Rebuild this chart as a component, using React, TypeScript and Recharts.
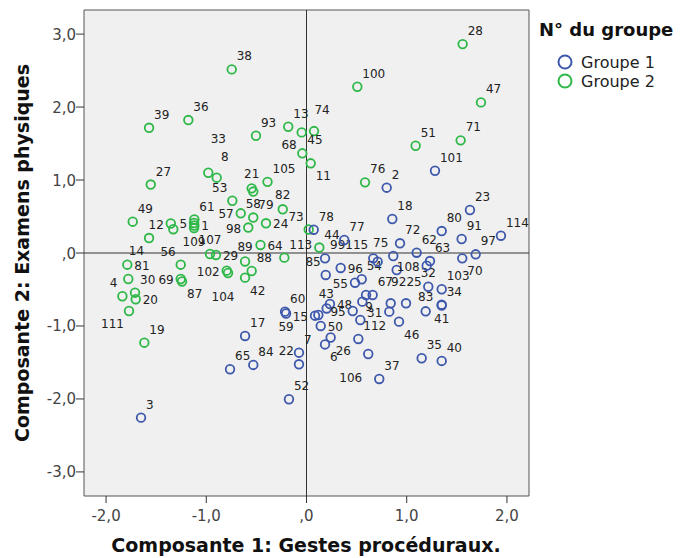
import React from 'react';
import { ScatterChart, Scatter, XAxis, YAxis, ReferenceLine, ReferenceArea } from 'recharts';

// ---- Data ----
const groupe1 = [
  { id: '3', x: -1.651, y: -2.256 },
  { id: '17', x: -0.613, y: -1.137 },
  { id: '65', x: -0.763, y: -1.593 },
  { id: '84', x: -0.531, y: -1.534 },
  { id: '7', x: -0.075, y: -1.366 },
  { id: '22', x: -0.075, y: -1.525 },
  { id: '52', x: -0.175, y: -2.004 },
  { id: '60', x: -0.214, y: -0.804 },
  { id: '59', x: -0.204, y: -0.829 },
  { id: '15', x: 0.085, y: -0.859 },
  { id: '43', x: 0.118, y: -0.849 },
  { id: '', x: 0.201, y: -0.76 },
  { id: '48', x: 0.234, y: -0.699 },
  { id: '50', x: 0.142, y: -1.0 },
  { id: '26', x: 0.241, y: -1.158 },
  { id: '6', x: 0.185, y: -1.253 },
  { id: '95', x: 0.461, y: -0.795 },
  { id: '9', x: 0.537, y: -0.918 },
  { id: '112', x: 0.517, y: -1.178 },
  { id: '106', x: 0.616, y: -1.384 },
  { id: '37', x: 0.726, y: -1.726 },
  { id: '', x: 0.557, y: -0.667 },
  { id: '', x: 0.594, y: -0.575 },
  { id: '67', x: 0.66, y: -0.575 },
  { id: '92', x: 0.84, y: -0.689 },
  { id: '31', x: 0.826, y: -0.804 },
  { id: '25', x: 0.993, y: -0.689 },
  { id: '46', x: 0.923, y: -0.941 },
  { id: '32', x: 1.215, y: -0.462 },
  { id: '103', x: 1.349, y: -0.497 },
  { id: '34', x: 1.349, y: -0.708 },
  { id: '83', x: 1.189, y: -0.799 },
  { id: '41', x: 1.349, y: -0.719 },
  { id: '35', x: 1.149, y: -1.442 },
  { id: '40', x: 1.349, y: -1.479 },
  { id: '55', x: 0.484, y: -0.407 },
  { id: '54', x: 0.551, y: -0.36 },
  { id: '85', x: 0.192, y: -0.301 },
  { id: '99', x: 0.185, y: -0.073 },
  { id: '96', x: 0.341, y: -0.205 },
  { id: '', x: 0.9, y: -0.233 },
  { id: '115', x: 0.666, y: -0.073 },
  { id: '', x: 0.71, y: -0.119 },
  { id: '75', x: 0.866, y: -0.041 },
  { id: '72', x: 0.933, y: 0.133 },
  { id: '62', x: 1.099, y: 0.004 },
  { id: '63', x: 1.232, y: -0.11 },
  { id: '108', x: 1.199, y: -0.174 },
  { id: '70', x: 1.554, y: -0.073 },
  { id: '97', x: 1.688, y: -0.018 },
  { id: '91', x: 1.548, y: 0.192 },
  { id: '80', x: 1.349, y: 0.301 },
  { id: '23', x: 1.631, y: 0.589 },
  { id: '114', x: 1.94, y: 0.237 },
  { id: '18', x: 0.856, y: 0.466 },
  { id: '2', x: 0.8, y: 0.895 },
  { id: '101', x: 1.282, y: 1.127 },
  { id: '77', x: 0.377, y: 0.178 },
  { id: '78', x: 0.072, y: 0.319 },
];

const groupe2 = [
  { id: '39', x: -1.571, y: 1.716 },
  { id: '36', x: -1.179, y: 1.822 },
  { id: '38', x: -0.746, y: 2.516 },
  { id: '27', x: -1.554, y: 0.938 },
  { id: '49', x: -1.734, y: 0.429 },
  { id: '12', x: -1.354, y: 0.404 },
  { id: '', x: -1.329, y: 0.326 },
  { id: '14', x: -1.571, y: 0.205 },
  { id: '56', x: -1.255, y: -0.16 },
  { id: '81', x: -1.788, y: -0.16 },
  { id: '', x: -1.778, y: -0.356 },
  { id: '4', x: -1.837, y: -0.593 },
  { id: '30', x: -1.711, y: -0.544 },
  { id: '20', x: -1.704, y: -0.634 },
  { id: '111', x: -1.771, y: -0.795 },
  { id: '19', x: -1.618, y: -1.229 },
  { id: '69', x: -1.255, y: -0.356 },
  { id: '87', x: -1.242, y: -0.39 },
  { id: '61', x: -1.119, y: 0.459 },
  { id: '5', x: -1.122, y: 0.411 },
  { id: '1', x: -1.119, y: 0.377 },
  { id: '109', x: -1.122, y: 0.342 },
  { id: '107', x: -0.963, y: -0.014 },
  { id: '29', x: -0.903, y: -0.027 },
  { id: '102', x: -0.796, y: -0.242 },
  { id: '104', x: -0.783, y: -0.274 },
  { id: '89', x: -0.613, y: -0.116 },
  { id: '88', x: -0.547, y: -0.247 },
  { id: '42', x: -0.613, y: -0.338 },
  { id: '64', x: -0.459, y: 0.11 },
  { id: '113', x: -0.221, y: -0.064 },
  { id: '98', x: -0.581, y: 0.349 },
  { id: '24', x: -0.404, y: 0.407 },
  { id: '57', x: -0.656, y: 0.544 },
  { id: '58', x: -0.531, y: 0.486 },
  { id: '79', x: -0.531, y: 0.842 },
  { id: '21', x: -0.547, y: 0.886 },
  { id: '53', x: -0.74, y: 0.716 },
  { id: '105', x: -0.389, y: 0.975 },
  { id: '82', x: -0.237, y: 0.599 },
  { id: '73', x: 0.022, y: 0.322 },
  { id: '33', x: -0.98, y: 1.1 },
  { id: '8', x: -0.896, y: 1.032 },
  { id: '93', x: -0.504, y: 1.607 },
  { id: '13', x: -0.182, y: 1.73 },
  { id: '68', x: -0.048, y: 1.653 },
  { id: '74', x: 0.075, y: 1.671 },
  { id: '45', x: -0.042, y: 1.366 },
  { id: '11', x: 0.042, y: 1.229 },
  { id: '100', x: 0.507, y: 2.278 },
  { id: '28', x: 1.558, y: 2.863 },
  { id: '47', x: 1.741, y: 2.064 },
  { id: '71', x: 1.538, y: 1.544 },
  { id: '51', x: 1.089, y: 1.47 },
  { id: '76', x: 0.584, y: 0.968 },
  { id: '44', x: 0.128, y: 0.075 },
];

const xTicks = [-2, -1, 0, 1, 2];
const yTicks = [-3, -2, -1, 0, 1, 2, 3];
const groupNames = ['Groupe 1', 'Groupe 2'];

// label placement relative to the marker (default: upper right)
const labelSide: Record<string, string> = {
  '12': 'l', '14': 'dl', '56': 'ul', '81': 'r', '4': 'ul', '20': 'r', '111': 'dl',
  '69': 'l', '87': 'dr', '5': 'l', '1': 'r', '109': 'd', '107': 'u', '29': 'r',
  '102': 'l', '104': 'dd', '89': 'u', '42': 'dr', '64': 'r', '98': 'l', '24': 'r',
  '57': 'l', '58': 'u', '79': 'dr', '21': 'u', '53': 'ul', '82': 'u', '73': 'ul',
  '33': 'uu', '8': 'uh', '68': 'dl', '74': 'uh', '45': 'ur', '11': 'dr',
  '22': 'ul', '59': 'd', '15': 'l', '43': 'uh', '48': 'r', '50': 'r', '26': 'dr',
  '6': 'dr', '95': 'l', '31': 'l', '106': 'ddl', '92': 'uh', '25': 'uh', '46': 'dr',
  '32': 'u', '83': 'u', '41': 'd', '55': 'l', '85': 'ul', '96': 'r', '115': 'ul',
  '75': 'ul', '108': 'l', '70': 'dr', '54': 'ur',
};

const SIDES: Record<string, [number, number, 'start' | 'middle' | 'end']> = {
  ur: [5, -9, 'start'],
  ul: [-5, -9, 'end'],
  u: [0, -10, 'middle'],
  uh: [8, -17, 'middle'],
  uu: [10, -30, 'middle'],
  r: [7, 5, 'start'],
  l: [-7, 5, 'end'],
  d: [0, 18, 'middle'],
  dd: [-5, 28, 'middle'],
  dr: [5, 17, 'start'],
  dl: [-5, 17, 'end'],
  ddl: [-6, 28, 'end'],
};

const FONT = '"DejaVu Sans", Verdana, sans-serif';
const BLUE = '#3E58AC';
const GREEN = '#2EB848';

const fmt = (v: number) => (v === 0 ? ',0' : v.toFixed(1).replace('.', ','));

const makeShape = (color: string) => (props: any) => {
  const { cx, cy, payload } = props;
  if (cx == null || cy == null) return <g />;
  const side = SIDES[labelSide[payload.id] || 'ur'];
  return (
    <g>
      <circle cx={cx} cy={cy} r={4.3} fill="none" stroke={color} strokeWidth={1.8} />
      {payload.id ? (
        <text
          x={cx + side[0]}
          y={cy + side[1]}
          textAnchor={side[2]}
          fontSize={12}
          fontFamily={FONT}
          fill="#222"
        >
          {payload.id}
        </text>
      ) : null}
    </g>
  );
};

const XTick = (props: any) => {
  const { x, y, payload } = props;
  return (
    <text x={x} y={y} dy={16} textAnchor="middle" fontSize={15} fontFamily={FONT} fill="#444">
      {fmt(payload.value)}
    </text>
  );
};

const YTick = (props: any) => {
  const { x, y, payload } = props;
  return (
    <text x={x} y={y} dy={5.5} textAnchor="end" fontSize={15} fontFamily={FONT} fill="#444">
      {fmt(payload.value)}
    </text>
  );
};

export default function App() {
  return (
    <div style={{ position: 'relative', width: 684, height: 550 }}>
      <ScatterChart width={684} height={550} margin={{ top: 2, right: 163, bottom: 0, left: 0 }}>
        <XAxis
          type="number"
          dataKey="x"
          domain={[-2.22, 2.22]}
          ticks={xTicks}
          allowDataOverflow
          height={62}
          axisLine={false}
          tickSize={7}
          tickLine={{ stroke: '#333' }}
          tick={<XTick />}
        />
        <YAxis
          type="number"
          dataKey="y"
          domain={[-3.33, 3.33]}
          ticks={yTicks}
          allowDataOverflow
          width={76}
          axisLine={false}
          tickSize={8}
          tickMargin={0}
          tickLine={{ stroke: '#333' }}
          tick={<YTick />}
        />
        <ReferenceArea
          x1={-2.22}
          x2={2.22}
          y1={-3.33}
          y2={3.33}
          fill="#f0f0f0"
          fillOpacity={1}
          stroke="#555"
          strokeWidth={1}
        />
        <ReferenceLine x={0} stroke="#333" strokeWidth={1} />
        <ReferenceLine y={0} stroke="#333" strokeWidth={1} />
        <Scatter name={groupNames[1]} data={groupe2} shape={makeShape(GREEN)} isAnimationActive={false} />
        <Scatter name={groupNames[0]} data={groupe1} shape={makeShape(BLUE)} isAnimationActive={false} />
      </ScatterChart>
      <svg
        width={684}
        height={550}
        style={{ position: 'absolute', left: 0, top: 0, pointerEvents: 'none' }}
      >
        <text
          x={298}
          y={544}
          textAnchor="middle"
          fontSize={19}
          fontWeight="bold"
          fontFamily={FONT}
          fill="#111"
        >
          Composante 1: Gestes procéduraux.
        </text>
        <text
          x={20.5}
          y={245}
          transform="rotate(-90, 20.5, 245)"
          textAnchor="middle"
          fontSize={19}
          fontWeight="bold"
          fontFamily={FONT}
          fill="#111"
        >
          Composante 2: Examens physiques
        </text>
        <text x={531} y={28} fontSize={18} fontWeight="bold" fontFamily={FONT} fill="#111">
          N° du groupe
        </text>
        <circle cx={557} cy={54} r={6.5} fill="none" stroke={BLUE} strokeWidth={2} />
        <text x={573} y={60} fontSize={16} fontFamily={FONT} fill="#222">
          {groupNames[0]}
        </text>
        <circle cx={557} cy={73} r={6.5} fill="none" stroke={GREEN} strokeWidth={2} />
        <text x={573} y={79} fontSize={16} fontFamily={FONT} fill="#222">
          {groupNames[1]}
        </text>
      </svg>
    </div>
  );
}
